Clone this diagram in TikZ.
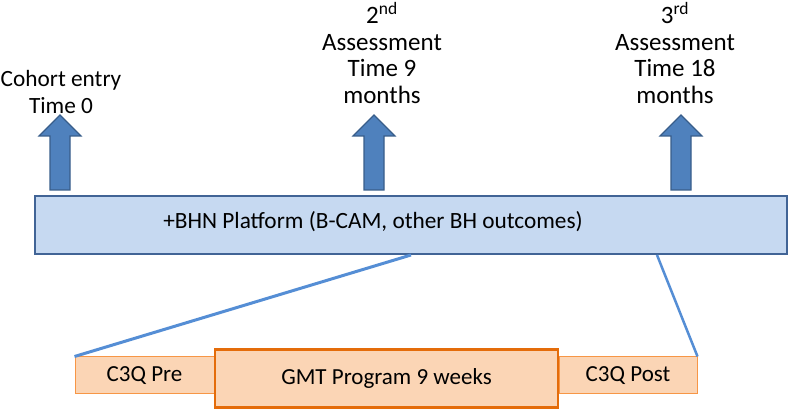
\documentclass[tikz,border=0pt]{standalone}
\usepackage{fontspec}
\setmainfont{Carlito}
\definecolor{platfill}{RGB}{198,217,241}
\definecolor{platdraw}{RGB}{65,100,150}
\definecolor{arrfill}{RGB}{79,129,189}
\definecolor{arrdraw}{RGB}{56,93,138}
\definecolor{linkblue}{RGB}{85,142,213}
\definecolor{orfill}{RGB}{251,213,181}
\definecolor{ordraw}{RGB}{247,150,70}
\definecolor{ordark}{RGB}{228,108,10}
\tikzset{
  bigtext/.style={font=\fontsize{25}{26.5}\selectfont, align=center, inner sep=0pt},
  boxtext/.style={font=\fontsize{23.3}{26}\selectfont},
  smallbox/.style={draw=ordraw, fill=orfill, line width=1pt, minimum height=37pt, inner sep=0pt, font=\fontsize{23}{26}\selectfont},
  gmtbox/.style={draw=ordark, fill=orfill, line width=2.5pt, minimum height=58pt, minimum width=343pt, inner sep=0pt, font=\fontsize{23}{26}\selectfont},
  link/.style={draw=linkblue, line width=3pt},
  uparrow/.pic={\filldraw[fill=arrfill, draw=arrdraw, line width=1.2pt] (-10,0) -- (-10,-54) -- (-21,-54) -- (0,-75) -- (21,-54) -- (10,-54) -- (10,0) -- cycle;}
}
\begin{document}
\begin{tikzpicture}[x=1pt,y=-1pt]
\useasboundingbox (0,0) rectangle (790,411);
% timeline labels
\node[bigtext, font=\fontsize{23.3}{26.5}\selectfont] (t0) at (61,92) {Cohort entry\\Time 0};
\node[bigtext] (t9) at (382,53) {2\textsuperscript{nd}\\Assessment\\Time 9\\months};
\node[bigtext] (t18) at (675,53) {3\textsuperscript{rd}\\Assessment\\Time 18\\months};
% arrows
\pic at (60,190) {uparrow};
\pic at (374,190) {uparrow};
\pic at (681,190) {uparrow};
% platform
\node[draw=platdraw, fill=platfill, line width=2pt, minimum width=752pt, minimum height=58pt, inner sep=0pt] (plat) at (410.5,225) {};
\node[boxtext, inner sep=0pt] (platlabel) at (373,222) {+BHN Platform (B-CAM, other BH outcomes)};
% bottom boxes
\node[smallbox, minimum width=139pt] (pre) at (144.5,375.5) {C3Q Pre};
\node[smallbox, minimum width=138pt] (post) at (628,375.5) {C3Q Post};
\node[gmtbox] (gmt) at (386.5,378.5) {GMT Program 9 weeks};
% links
\coordinate (p1) at (411,255);
\coordinate (p2) at (657,255);
\draw[link] (p1) -- (pre.north west);
\draw[link, line width=2.5pt] (p2) -- (post.north east);
\end{tikzpicture}
\end{document}
